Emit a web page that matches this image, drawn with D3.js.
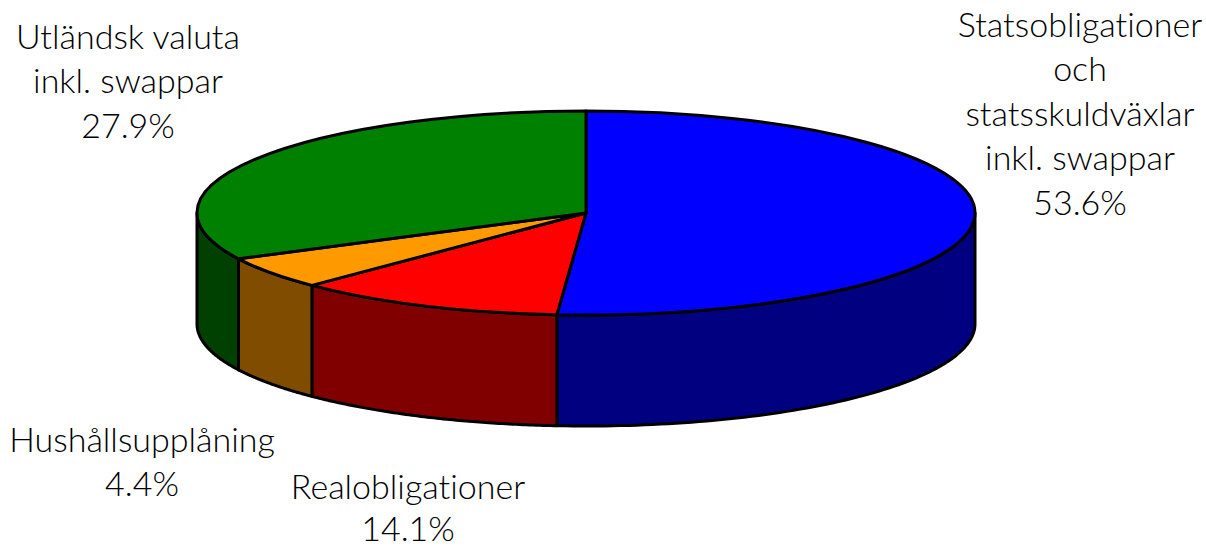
<!DOCTYPE html>
<html><head><meta charset="utf-8">
<script src="https://cdn.jsdelivr.net/npm/d3@7/dist/d3.min.js"></script>
<style>html,body{margin:0;padding:0;background:#fff;overflow:hidden}
text{font-family:Lato,"Open Sans",sans-serif;font-weight:300;font-size:34px;fill:#000;text-anchor:middle;font-variant-ligatures:none}</style>
</head><body><svg id="c" width="1206" height="548"></svg>
<script>
const categories=["Statsobligationer och statsskuldväxlar inkl. swappar","Realobligationer","Hushållsupplåning","Utländsk valuta inkl. swappar"];
const values=[53.6,14.1,4.4,27.9];
const topColors=["#0000ff","#ff0000","#ff9900","#008000"];
const sideColors=["#000080","#800000","#804d00","#004000"];
const labelLines=[["Statsobligationer","och","statsskuldväxlar","inkl. swappar","53.6%"],["Realobligationer","14.1%"],["Hushållsupplåning","4.4%"],["Utländsk valuta","inkl. swappar","27.9%"]];
const labelPos=[[1080,37],[408,499],[142,452],[128,49]];
const lineGaps=[44.4,42,44.4,44.4];
const cx=586,cy=213,rx=389,ry=102,depth=111;
// the original 3D view foreshortens angles: data angle -> drawn angle (degrees)
const rad=Math.PI/180;
const view=d3.scaleLinear().domain([0,192.96,243.72,259.56,360]).range([0,184.3,224.8,243.3,360]);
const pie=d3.pie().sort(null).value(d=>d)(values).map(p=>({...p,a0:view(p.startAngle/rad)*rad,a1:view(p.endAngle/rad)*rad}));
const svg=d3.select("#c");
const px=a=>cx+rx*Math.sin(a), py=a=>cy-ry*Math.cos(a);
const x=d3.scaleIdentity(),y=d3.scaleIdentity();
const line=d3.line().x(d=>x(d[0])).y(d=>y(d[1]));
const walls=svg.append("g");
pie.forEach((p,i)=>{
  const s=Math.max(p.a0,Math.PI/2),e=Math.min(p.a1,Math.PI*1.5);
  if(e<=s)return;
  const n=80,top=d3.range(n+1).map(k=>s+(e-s)*k/n);
  const pts=top.map(a=>[px(a),py(a)]).concat(top.slice().reverse().map(a=>[px(a),py(a)+depth]));
  walls.append("path").attr("d",line(pts)+"Z").attr("fill",sideColors[i]).attr("stroke","#000").attr("stroke-width",3).attr("stroke-linejoin","round");
});
const arc=d3.arc().innerRadius(0).outerRadius(rx);
const tops=svg.append("g").attr("transform",`translate(${cx},${cy}) scale(1,${ry/rx})`);
tops.selectAll("path").data(pie).join("path")
 .attr("d",d=>arc({startAngle:d.a0,endAngle:d.a1}))
 .attr("fill",(d,i)=>topColors[i]).attr("stroke","#000").attr("stroke-width",3)
 .attr("stroke-linejoin","round").attr("vector-effect","non-scaling-stroke");
labelLines.forEach((ls,i)=>{
  const t=svg.append("text").attr("data-category",categories[i]);
  ls.forEach((l,j)=>t.append("tspan").attr("x",labelPos[i][0]).attr("y",labelPos[i][1]+j*lineGaps[i]).text(l));
});
</script></body></html>
